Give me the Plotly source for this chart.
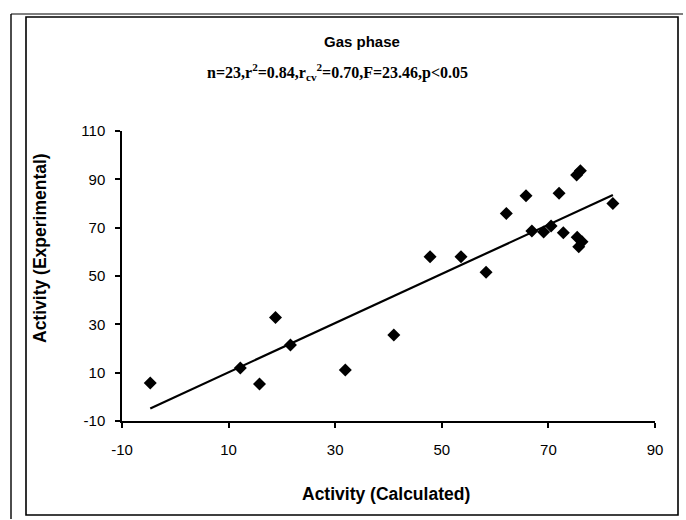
import numpy as np
import plotly.graph_objects as go

# Data
calculated = [-4.7, 12.2, 15.8, 18.8, 21.6, 31.9, 41.0, 47.8, 53.6, 58.3, 62.1, 65.8,
              66.9, 69.1, 70.5, 72.0, 72.8, 75.3, 76.0, 75.4, 76.3, 75.7, 82.1]
experimental = [5.7, 11.9, 5.3, 32.8, 21.4, 11.1, 25.6, 58.0, 58.0, 51.6, 75.9, 83.2,
                68.6, 68.2, 70.7, 84.2, 67.9, 91.8, 93.6, 66.0, 64.2, 62.1, 80.0]
x_ticks = [-10, 10, 30, 50, 70, 90]
y_ticks = [-10, 10, 30, 50, 70, 90, 110]

title_text = "Gas phase"
stats_text = "n=23,r<sup>2</sup>=0.84,r<sub>cv</sub><sup>2</sup>=0.70,F=23.46,p&lt;0.05"
x_title = "Activity (Calculated)"
y_title = "Activity (Experimental)"

# Linear trend line fitted to the data
slope, intercept = np.polyfit(calculated, experimental, 1)
fit_x = [min(calculated), max(calculated)]
fit_y = [slope * v + intercept for v in fit_x]

W, H = 686, 520
L, R, T, B = 122, 31, 131, 99
PW, PH = W - L - R, H - T - B


def px(xpix):
    return (xpix - L) / PW


def py(ypix):
    return (H - B - ypix) / PH


fig = go.Figure()
fig.add_trace(go.Scatter(x=fit_x, y=fit_y, mode="lines",
                         line=dict(color="black", width=2.2), hoverinfo="skip"))
fig.add_trace(go.Scatter(x=calculated, y=experimental, mode="markers",
                         marker=dict(symbol="diamond", size=10, color="black",
                                     line=dict(width=0))))

axis_font = dict(family="Liberation Sans, Arial, sans-serif", size=15, color="black")

fig.update_layout(
    width=W, height=H,
    margin=dict(l=L, r=R, t=T, b=B),
    paper_bgcolor="white", plot_bgcolor="white",
    showlegend=False,
    xaxis=dict(range=[-10, 90], tickvals=x_ticks, ticktext=[str(v) for v in x_ticks],
               showgrid=False, zeroline=False, showline=True, linecolor="black", linewidth=1.5,
               ticks="outside", ticklen=5, tickwidth=1.5, tickcolor="black",
               tickfont=axis_font, ticklabelstandoff=9),
    yaxis=dict(range=[-10, 110], tickvals=y_ticks, ticktext=[str(v) for v in y_ticks],
               showgrid=False, zeroline=False, showline=True, linecolor="black", linewidth=1.5,
               ticks="outside", ticklen=5, tickwidth=1.5, tickcolor="black",
               tickfont=axis_font, ticklabelstandoff=7),
    font=dict(family="Liberation Sans, Arial, sans-serif", color="black"),
)

# frame (double border as in the scan)
fig.add_shape(type="rect", xref="paper", yref="paper",
              x0=px(26), x1=px(678), y0=py(515), y1=py(17),
              line=dict(color="black", width=1.6), layer="below")
fig.add_shape(type="line", xref="paper", yref="paper",
              x0=px(11), x1=px(11), y0=py(519), y1=py(14),
              line=dict(color="black", width=1.4))
fig.add_shape(type="line", xref="paper", yref="paper",
              x0=px(11), x1=px(683), y0=py(14), y1=py(14),
              line=dict(color="black", width=1.2))

fig.add_annotation(text="<b>" + title_text + "</b>", xref="paper", yref="paper",
                   x=px(362), y=py(41), showarrow=False, xanchor="center", yanchor="middle",
                   font=dict(family="Liberation Sans, Arial, sans-serif", size=15, color="black"))
fig.add_annotation(text="<b>" + stats_text + "</b>", xref="paper", yref="paper",
                   x=px(337), y=py(72), showarrow=False, xanchor="center", yanchor="middle",
                   font=dict(family="Liberation Serif, Times New Roman, serif", size=16, color="black"))
fig.add_annotation(text="<b>" + x_title + "</b>", xref="paper", yref="paper",
                   x=px(386), y=py(494), showarrow=False, xanchor="center", yanchor="middle",
                   font=dict(family="Liberation Sans, Arial, sans-serif", size=17.5, color="black"))
fig.add_annotation(text="<b>" + y_title + "</b>", xref="paper", yref="paper",
                   x=px(40), y=py(248), showarrow=False, xanchor="center", yanchor="middle",
                   textangle=-90,
                   font=dict(family="Liberation Sans, Arial, sans-serif", size=17.5, color="black"))

fig.write_html("out.html")
